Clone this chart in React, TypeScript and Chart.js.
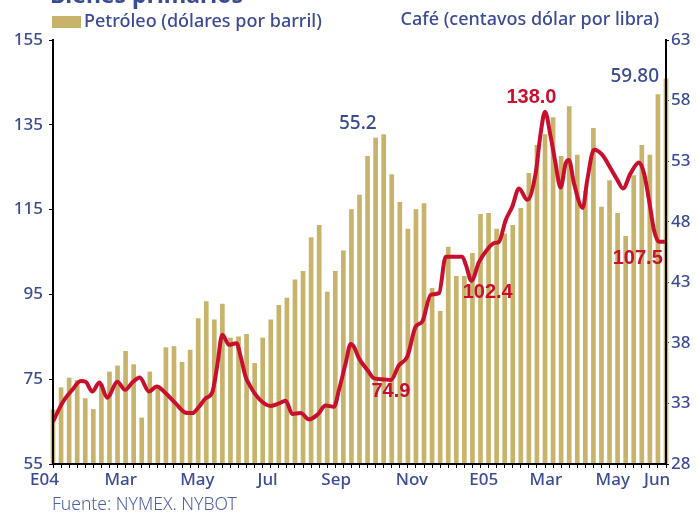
import React, { useEffect, useRef } from 'react';
import { Chart, registerables } from 'chart.js';

Chart.register(...registerables);

// ---- Data -------------------------------------------------------------
// Weekly oil price, USD per barrel (Jan 2004 – Jun 2005), right axis
const oilValues = [
  32.5, 34.3, 35.1, 34.9, 33.4, 32.5, 34.6, 35.6, 36.1, 37.3,
  36.2, 31.8, 35.6, 34.5, 37.6, 37.7, 36.4, 37.4, 40.0, 41.4,
  39.9, 41.2, 38.4, 38.5, 38.7, 36.3, 38.4, 39.9, 41.1, 41.7,
  43.2, 43.9, 46.7, 47.7, 42.2, 43.9, 45.6, 49.0, 50.2, 53.4,
  54.9, 55.2, 51.9, 49.6, 47.4, 49.0, 49.5, 42.5, 40.6, 45.9,
  43.5, 43.5, 45.4, 48.6, 48.7, 47.4, 47.0, 47.7, 49.1, 52.0,
  54.3, 55.2, 56.6, 53.4, 57.5, 53.5, 50.5, 55.7, 49.2, 51.4,
  48.7, 46.8, 51.8, 54.3, 53.5, 58.5, 59.8,
];

// Coffee price, US cents per pound, left axis (position in weeks from E04)
const coffeeWeeks = [
  0, 1.15, 2.39, 3.43, 4.05, 4.87, 5.76, 6.73, 7.97, 8.93,
  9.92, 10.75, 11.9, 12.86, 13.97, 15.21, 16.45, 17.27, 18.1, 18.93,
  19.75, 20.37, 20.99, 21.82, 22.75, 23.27, 23.89, 24.3, 25.13, 26.16,
  26.99, 28.02, 28.85, 29.67, 30.71, 31.74, 32.77, 33.81, 34.84, 35.46,
  36.29, 36.91, 37.32, 37.94, 38.97, 39.8, 40.83, 41.87, 42.9, 43.92,
  44.97, 45.79, 46.83, 47.86, 48.69, 49.72, 50.74, 51.2, 51.88, 52.81,
  53.84, 54.67, 55.29, 56.12, 56.94, 57.77, 58.8, 59.84, 60.43, 61.0,
  61.7, 62.23, 62.94, 63.56, 63.97, 64.59, 65.68, 66.24, 67.07, 68.1,
  69.14, 69.96, 70.67, 71.62, 72.65, 73.27, 73.89, 74.51, 75.13, 75.87,
];
const coffeeValues = [
  65.0, 69.4, 72.5, 74.6, 74.4, 72.1, 74.2, 70.6, 74.4, 72.5,
  74.4, 75.4, 72.1, 73.3, 71.7, 69.3, 67.1, 67.0, 68.5, 70.5,
  71.9, 78.3, 85.5, 83.1, 83.5, 80.3, 75.5, 73.9, 71.3, 69.3,
  68.7, 69.3, 69.9, 66.8, 67.0, 65.5, 66.6, 68.8, 68.5, 72.5,
  78.8, 83.3, 82.6, 79.9, 77.2, 75.2, 75.0, 74.8, 78.3, 80.3,
  87.4, 88.6, 94.9, 95.3, 103.9, 103.9, 103.9, 101.9, 98.2, 102.6,
  105.6, 107.1, 107.4, 112.5, 115.7, 120.0, 117.3, 123.6, 132.6, 138.1,
  132.2, 126.7, 120.2, 125.9, 126.7, 121.2, 115.4, 122.0, 129.1, 127.9,
  124.7, 122.0, 120.0, 123.6, 126.1, 123.6, 117.3, 110.2, 107.4, 107.4,
];

const monthLabels = ['E04', 'Mar', 'May', 'Jul', 'Sep', 'Nov', 'E05', 'Mar', 'May', 'Jun'];
const monthLabelWeeks = [-1.05, 8.4, 17.9, 26.6, 35.1, 44.5, 53.4, 61.1, 69.4, 74.9];

const cafeTickValues = [55, 75, 95, 115, 135, 155];
const oilTickValues = [28, 33, 38, 43, 48, 53, 58, 63];

// Value call-outs: text, anchor week, anchor value, axis
const calloutTexts = ['55.2', '59.80', '74.9', '102.4', '138.0', '107.5'];
const calloutWeeks = [37.79, 72.13, 41.9, 53.89, 59.32, 72.5];
const calloutValues = [56.12, 60.0, 72.05, 95.45, 141.44, 103.5];
const calloutAxes = ['oil', 'oil', 'cafe', 'cafe', 'cafe', 'cafe'];

const titleText = 'Bienes primarios';
const oilLegend = 'Petróleo (dólares por barril)';
const cafeLegend = 'Café (centavos dólar por libra)';
const sourceText = 'Fuente: NYMEX. NYBOT';

// ---- Styles -----------------------------------------------------------
const BLUE = '#3b4b94';
const RED = '#c8102e';
const GOLD = '#c8b36b';
const FONT = '"Noto Sans", sans-serif';

const overlayPlugin = {
  id: 'overlay',
  afterDraw(chart: any) {
    const ctx = chart.ctx as CanvasRenderingContext2D;
    const xs = chart.scales.x;
    const yO = chart.scales.yOil;
    const yC = chart.scales.yCafe;
    ctx.save();
    ctx.textAlign = 'left';
    ctx.textBaseline = 'alphabetic';
    ctx.fillStyle = BLUE;
    ctx.font = `bold 23px ${FONT}`;
    ctx.fillText(titleText, 50, 3);

    ctx.fillStyle = GOLD;
    ctx.fillRect(52, 16, 29, 12);
    ctx.fillStyle = BLUE;
    ctx.font = `500 18px ${FONT}`;
    ctx.textBaseline = 'middle';
    ctx.fillText(oilLegend, 84, 22);
    ctx.textAlign = 'right';
    ctx.fillText(cafeLegend, 659, 20);

    calloutTexts.forEach((t, i) => {
      const px = xs.getPixelForValue(calloutWeeks[i]);
      const isOil = calloutAxes[i] === 'oil';
      const py = (isOil ? yO : yC).getPixelForValue(calloutValues[i]);
      ctx.textAlign = 'center';
      ctx.textBaseline = 'middle';
      if (isOil) {
        ctx.fillStyle = BLUE;
        ctx.font = `500 19px ${FONT}`;
      } else {
        ctx.fillStyle = RED;
        ctx.font = `bold 20px "Liberation Sans", Arial, sans-serif`;
      }
      ctx.fillText(t, px, py);
    });

    ctx.textAlign = 'left';
    ctx.textBaseline = 'middle';
    ctx.fillStyle = '#4d5ea8';
    ctx.font = `300 17.5px ${FONT}`;
    ctx.fillText(sourceText, 52, 505);
    ctx.restore();
  },
};

export default function App() {
  const ref = useRef<HTMLCanvasElement | null>(null);
  useEffect(() => {
    if (!ref.current) return;
    const xTickValues = [
      ...oilValues.map((_, i) => i),
      ...monthLabelWeeks,
    ];
    const chart = new Chart(ref.current, {
      type: 'bar',
      data: {
        datasets: [
          {
            type: 'line',
            label: cafeLegend,
            data: coffeeWeeks.map((w, i) => ({ x: w, y: coffeeValues[i] })),
            yAxisID: 'yCafe',
            borderColor: RED,
            borderWidth: 4,
            pointRadius: 0,
            cubicInterpolationMode: 'monotone',
            order: 1,
          } as any,
          {
            type: 'bar',
            label: oilLegend,
            data: oilValues.map((v, i) => ({ x: i, y: v })),
            yAxisID: 'yOil',
            backgroundColor: GOLD,
            barThickness: 4,
            base: 28,
            clip: { left: 6, right: 6, top: 0, bottom: 0 },
            order: 2,
          } as any,
        ],
      },
      options: {
        responsive: false,
        animation: false,
        layout: { padding: { top: 40, left: 0, right: 0, bottom: 0 } },
        plugins: { legend: { display: false }, tooltip: { enabled: false } },
        scales: {
          x: {
            type: 'linear',
            min: 0,
            max: oilValues.length - 1,
            offset: false,
            afterBuildTicks: (scale: any) => {
              scale.ticks = xTickValues.map((v) => ({ value: v }));
            },
            afterFit: (scale: any) => {
              scale.height = 50;
            },
            grid: {
              offset: false,
              drawOnChartArea: false,
              drawTicks: true,
              tickLength: 4,
              color: (c: any) =>
                c.tick && Number.isInteger(c.tick.value) && c.tick.value >= 0 ? '#000' : 'rgba(0,0,0,0)',
            },
            border: { display: true, color: '#000', width: 2, z: 1 },
            ticks: {
              autoSkip: false,
              maxRotation: 0,
              padding: 2,
              color: BLUE,
              font: { family: FONT, size: 17, weight: '500' },
              callback: (value: any) => {
                const k = monthLabelWeeks.indexOf(Number(value));
                return k >= 0 ? monthLabels[k] : '';
              },
            },
          } as any,
          yCafe: {
            type: 'linear',
            position: 'left',
            min: 55,
            max: 155,
            afterBuildTicks: (scale: any) => {
              scale.ticks = cafeTickValues.map((v) => ({ value: v }));
            },
            afterFit: (scale: any) => {
              scale.width = 53;
            },
            grid: { drawOnChartArea: false, tickLength: 4, color: '#000' },
            border: { display: true, color: '#000', width: 2, z: 1 },
            ticks: { padding: 6, color: BLUE, font: { family: FONT, size: 17, weight: '500' } },
          } as any,
          yOil: {
            type: 'linear',
            position: 'right',
            min: 28,
            max: 63,
            afterBuildTicks: (scale: any) => {
              scale.ticks = oilTickValues.map((v) => ({ value: v }));
            },
            afterFit: (scale: any) => {
              scale.width = 30;
            },
            grid: { drawOnChartArea: false, tickLength: 3, color: '#000' },
            border: { display: true, color: '#000', width: 2, z: 1 },
            ticks: { padding: 2, color: BLUE, font: { family: FONT, size: 17, weight: '500' } },
          } as any,
        },
      },
      plugins: [overlayPlugin],
    });
    return () => chart.destroy();
  }, []);

  return (
    <div style={{ position: 'absolute', left: 0, top: 0, width: 696, height: 514, background: '#fff' }}>
      <canvas ref={ref} width={696} height={514} style={{ display: 'block' }} />
    </div>
  );
}
